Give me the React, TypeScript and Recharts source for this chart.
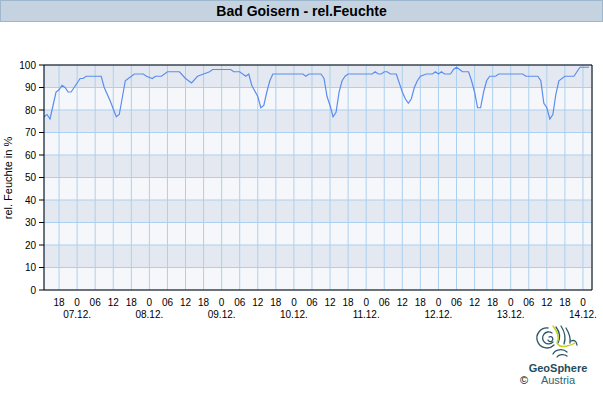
import React from 'react';
import { LineChart, Line, XAxis, YAxis, CartesianGrid, ReferenceLine } from 'recharts';

// hours since 06.12. 00:00
const hours = [
  13, 14, 15, 16, 17, 18, 19, 20, 21, 22, 23, 24, 25, 26, 27, 32, 33, 35, 37, 38,
  40, 41, 43, 46, 47, 49, 50, 52, 54, 58, 60, 62, 64, 66, 68, 69, 75, 76, 78, 80,
  81, 82, 84, 85, 86, 87, 88, 89, 99, 100, 101, 105, 106, 107, 108, 109, 110, 111, 112, 113,
  114, 122, 123, 124, 125, 126, 127, 128, 130, 131, 132, 133, 134, 135, 136, 137, 138, 140, 142, 143,
  144, 145, 146, 148, 149, 150, 151, 152, 154, 155, 156, 157, 158, 159, 160, 161, 163, 164, 172, 173,
  177, 178, 179, 180, 181, 182, 183, 184, 186, 189, 190, 191, 194,
];
const humidity = [
  77, 78, 76, 82, 88, 89, 91, 90, 88, 88, 90, 92, 94, 94, 95, 95, 90, 84, 77, 78,
  93, 94, 96, 96, 95, 94, 95, 95, 97, 97, 94, 92, 95, 96, 97, 98, 98, 97, 97, 95,
  96, 91, 86, 81, 82, 88, 93, 96, 96, 95, 96, 96, 94, 86, 82, 77, 79, 88, 93, 95,
  96, 96, 97, 96, 96, 97, 97, 96, 96, 92, 88, 85, 83, 85, 90, 93, 95, 96, 96, 97,
  96, 97, 96, 96, 98, 99, 98, 97, 97, 93, 88, 81, 81, 88, 93, 95, 95, 96, 96, 95,
  95, 93, 83, 81, 76, 78, 87, 93, 95, 95, 97, 99, 99,
];
const xTicks = [18, 24, 30, 36, 42, 48, 54, 60, 66, 72, 78, 84, 90, 96, 102, 108, 114, 120, 126, 132, 138, 144, 150, 156, 162, 168, 174, 180, 186, 192];
const yTicks = [0, 10, 20, 30, 40, 50, 60, 70, 80, 90, 100];
const hourLabels: Record<number, string> = { 0: '0', 6: '06', 12: '12', 18: '18' };
const dateLabels = ['07.12.', '08.12.', '09.12.', '10.12.', '11.12.', '12.12.', '13.12.', '14.12.'];

const data = hours.map((h, i) => ({ h, v: humidity[i] }));

const FONT = '"Liberation Sans", Arial, sans-serif';

function XTick(props: any) {
  const { x, y, payload } = props;
  const h = payload.value as number;
  const hod = h % 24;
  return (
    <g>
      <text x={x} y={y + 16} textAnchor="middle" fontSize={10} fill="#000" fontFamily={FONT}>
        {hourLabels[hod]}
      </text>
      {hod === 0 && (
        <text x={x} y={y + 28} textAnchor="middle" fontSize={10} fill="#000" fontFamily={FONT}>
          {dateLabels[h / 24 - 1]}
        </text>
      )}
    </g>
  );
}

export default function App() {
  return (
    <div style={{ position: 'absolute', left: 0, top: 0, width: 603, height: 400, background: '#fff', fontFamily: FONT }}>
      <div
        style={{
          position: 'absolute', left: 0, top: 0, width: 601, height: 20,
          background: '#c5d3e1', border: '1px solid #9db7cf', textAlign: 'center',
          fontWeight: 'bold', fontSize: 14, lineHeight: '20px', color: '#000', fontFamily: FONT,
        }}
      >
        Bad Goisern - rel.Feuchte
      </div>
      <div style={{ position: 'absolute', left: 0, top: 0 }}>
        <LineChart width={603} height={400} data={data} margin={{ top: 65, right: 11, bottom: 80, left: 0 }}>
          <CartesianGrid stroke="#acd0ef" strokeWidth={1} horizontalFill={['#e4e9f1', '#f6f7fa']} />
          <XAxis
            dataKey="h" type="number" domain={[13, 195]} ticks={xTicks} interval={0}
            tick={XTick} tickLine={false} tickSize={0} tickMargin={0} height={30}
            axisLine={{ stroke: '#000' }} allowDataOverflow
          />
          <YAxis
            type="number" domain={[0, 100]} ticks={yTicks} interval={0} width={44}
            tick={{ fontSize: 10, fill: '#000', fontFamily: FONT }} tickSize={5} tickMargin={3}
            tickLine={{ stroke: '#000' }} axisLine={{ stroke: '#000' }}
          />
          <ReferenceLine y={100} stroke="#000" ifOverflow="extendDomain" />
          <ReferenceLine x={195} stroke="#000" />
          <Line type="linear" dataKey="v" stroke="#5b8def" strokeWidth={1.2} dot={false} isAnimationActive={false} />
        </LineChart>
      </div>
      <svg width={603} height={400} style={{ position: 'absolute', left: 0, top: 0, pointerEvents: 'none' }}>
        <text x={0} y={0} transform="translate(12,178) rotate(-90)" textAnchor="middle" fontSize={11} fill="#000" fontFamily={FONT}>
          rel. Feuchte in %
        </text>
        <g fill="none" stroke="#2a5566" strokeWidth={1.3} strokeLinecap="round">
          <path d="M549 337 a2.5 2.5 0 1 1 -1 3" />
          <path d="M552 333 a6 6 0 1 0 1 9" />
          <path d="M548 328 a10 10 0 1 0 6 17" />
          <path d="M556 327 q6 8 2 16" />
          <path d="M561 326 q6 9 3 18" />
          <path d="M566 328 q5 8 4 15" />
          <path d="M553 354 a8 6 0 0 1 14 -2" />
          <path d="M557 357 a6 4 0 0 1 10 -1" />
          <path d="M571 341 q5 -2 6 4" />
        </g>
        <path d="M553 326 q8 10 4 17 q3 5 10 3 q5 -1 8 -3" fill="none" stroke="#c5d21a" strokeWidth={1.5} strokeLinecap="round" />
        <text x={558} y={372} textAnchor="middle" fontSize={11} fontWeight="bold" fill="#1f4d5c" fontFamily={FONT}>GeoSphere</text>
        <text x={558} y={384} textAnchor="middle" fontSize={11} fill="#2e6374" fontFamily={FONT}>Austria</text>
        <text x={524} y={384} textAnchor="middle" fontSize={11} fill="#000" fontFamily={FONT}>©</text>
      </svg>
    </div>
  );
}
